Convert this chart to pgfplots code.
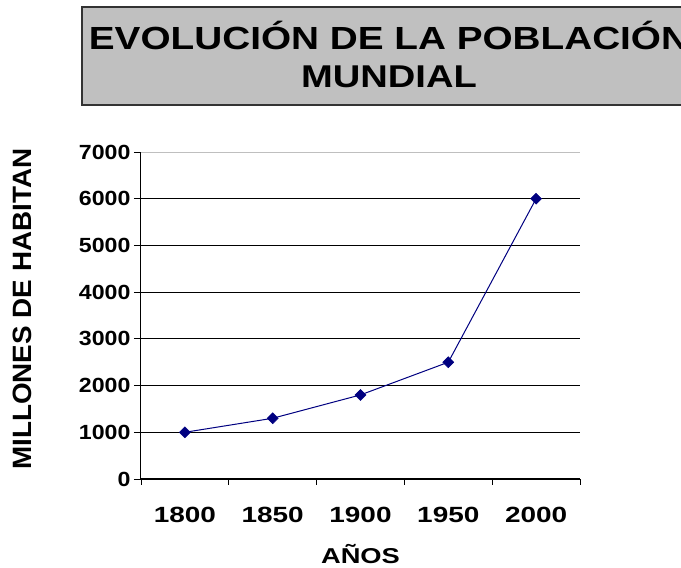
\documentclass[border=0pt]{standalone}
\usepackage{pgfplots}
\pgfplotsset{compat=1.18}
\usepackage{fontspec}
\setmainfont{Liberation Sans}
\newfontfamily\fT[FakeStretch=1.21]{Liberation Sans}
\newfontfamily\fX[FakeStretch=1.27]{Liberation Sans}
\newfontfamily\fY[FakeStretch=1.13]{Liberation Sans}
\newfontfamily\fL[FakeStretch=1.05]{Liberation Sans}
\definecolor{navyline}{RGB}{0,0,128}
\definecolor{titlegray}{RGB}{192,192,192}
\begin{document}
\begin{tikzpicture}[x=1pt,y=1pt]
\path[use as bounding box] (0,0) rectangle (681,568);
\clip (0,0) rectangle (681,568);
% title box
\draw[fill=titlegray, draw=black!80, line width=1.3pt] (82,568-105) rectangle (730,568-7);
\node[anchor=base, inner sep=0] at (389,568-50) {\fT\bfseries\fontsize{32}{38}\selectfont EVOLUCIÓN DE LA POBLACIÓN};
\node[anchor=base, inner sep=0] at (389,568-88) {\fT\bfseries\fontsize{31.5}{38}\selectfont MUNDIAL};
\begin{axis}[
  at={(141pt,89pt)}, anchor=south west,
  width=439pt, height=327pt, scale only axis,
  xmin=-0.5, xmax=4.5, ymin=0, ymax=7000,
  axis x line=bottom, axis y line=left,
  axis line style={-, black, line width=1pt},
  xtick={0,1,2,3,4},
  xticklabels={1800,1850,1900,1950,2000},
  minor xtick={-0.5,0.5,1.5,2.5,3.5,4.5},
  major x tick style={draw=none},
  minor x tick style={black, line width=0.9pt},
  ytick={0,1000,2000,3000,4000,5000,6000},
  extra y ticks={7000},
  extra y tick style={major grid style={black!25, line width=0.8pt}},
  ymajorgrids,
  major grid style={black, line width=0.8pt},
  major y tick style={black, line width=0.9pt},
  tick align=outside,
  major tick length=7pt, minor tick length=6pt,
  /pgf/number format/assume math mode=true,
  /pgf/number format/1000 sep={},
  scaled y ticks=false,
  yticklabel style={font=\fY\bfseries\fontsize{20.5}{21}\selectfont, anchor=east},
  xticklabel style={font=\fX\bfseries\fontsize{22}{22}\selectfont, anchor=base, yshift=-37pt},
  xlabel={AÑOS},
  xlabel style={font=\fX\bfseries\fontsize{21.5}{22}\selectfont, at={(axis description cs:0.5,-0.2569)}, anchor=base, inner sep=0pt},
  ylabel={MILLONES DE HABITANTES},
  ylabel style={font=\fL\bfseries\fontsize{26.5}{27}\selectfont, at={(axis description cs:-0.2483,0.0275)}, anchor=base west, inner sep=0pt},
  clip=false,
]
\addplot[navyline, line width=1pt, mark=square*, mark size=3.9pt, mark options={rotate=45, fill=navyline, draw=navyline, line width=0.5pt}]
  coordinates {(0,1000) (1,1300) (2,1800) (3,2500) (4,6000)};
\end{axis}
\fill[white] (0,568-148) rectangle (66,568);
\end{tikzpicture}
\end{document}
